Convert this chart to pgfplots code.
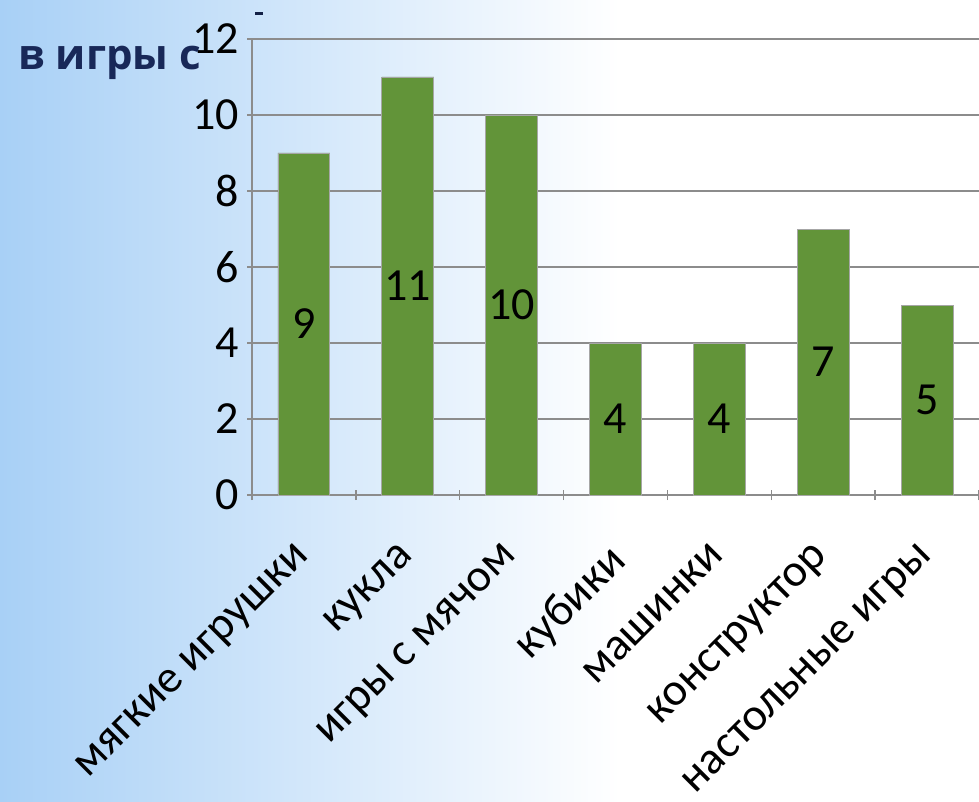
\documentclass[border=0pt]{standalone}
\usepackage{pgfplots}
\pgfplotsset{compat=1.18}
\usepackage{pgfplotstable}
\usepackage{fontspec}
\setmainfont{Carlito}
\newfontfamily\titlefont{Open Sans}
\definecolor{bargreen}{RGB}{98,148,57}
\definecolor{gridgray}{RGB}{140,140,140}
\definecolor{bgblue}{RGB}{168,208,246}
\definecolor{navy}{RGB}{24,40,88}
\pgfplotstableread{
x v
0 9
1 11
2 10
3 4
4 4
5 7
6 5
}\datatable
\begin{document}
\begin{tikzpicture}[x=1pt,y=1pt]
\useasboundingbox (0,0) rectangle (979,801);
\fill[white] (0,0) rectangle (979,801);
\shade[left color=bgblue, right color=white, shading angle=90] (0,0) rectangle (620,801);
\fill[white] (620,0) rectangle (979,801);
\begin{axis}[
  at={(252pt,306pt)}, anchor=south west,
  scale only axis, width=727pt, height=456pt,
  xmin=-0.5, xmax=6.5, ymin=0, ymax=12,
  ytick={0,2,...,12},
  xtick={0,...,6},
  xticklabels={мягкие игрушки, кукла, игры с мячом, кубики, машинки, конструктор, настольные игры},
  minor xtick={-0.5,0.5,...,6.5},
  major x tick style={draw=none},
  tick align=outside,
  major tick length=10pt, minor tick length=10pt,
  tick style={gridgray, line width=1.5pt},
  axis x line=bottom, axis y line=left,
  axis line style={-, gridgray, line width=1.5pt},
  ymajorgrids, major grid style={gridgray, line width=2pt},
  /pgf/number format/assume math mode=true,
  yticklabel style={font=\fontsize{46}{52}\selectfont, inner sep=8pt},
  xticklabel style={xshift=-10pt, yshift=-38pt, font=\fontsize{46}{52}\selectfont, rotate=45, anchor=north east, inner sep=2pt},
  clip=false,
]
\addplot[ybar, bar width=0.5, fill=bargreen, draw=gray!70, line width=0.8pt] table[x=x, y=v] {\datatable};
\addplot[draw=none, mark=none, nodes near coords, point meta=explicit symbolic,
  every node near coord/.style={anchor=center, font=\fontsize{46}{52}\selectfont, text=black}]
  table[x=x, y expr=\thisrow{v}/2, meta=v] {\datatable};
\end{axis}
\node[anchor=base west, inner sep=0, text=navy, font=\titlefont\bfseries\fontsize{42}{48}\selectfont] at (18,731) {в игры с};
\fill[navy!80!black] (255,786) rectangle (263,789);
\end{tikzpicture}
\end{document}
